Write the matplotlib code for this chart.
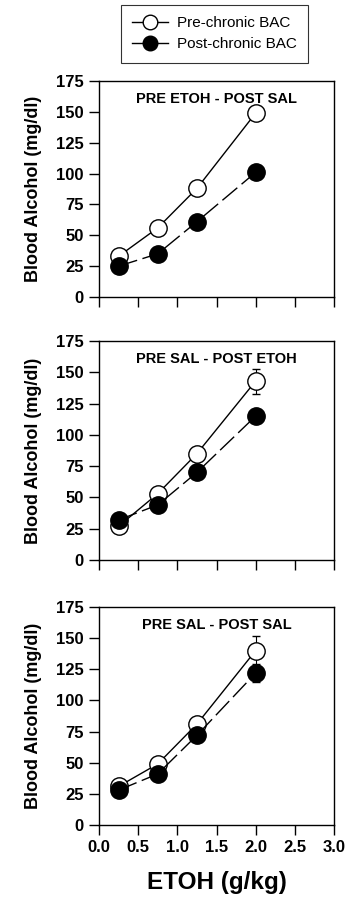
import matplotlib
matplotlib.use('Agg')
import matplotlib.pyplot as plt
from matplotlib.lines import Line2D
import numpy as np

plt.rcParams['font.family'] = ['Liberation Sans', 'DejaVu Sans']

# ETOH dose (g/kg)
doses = [0.25, 0.75, 1.25, 2.0]

titles = ['PRE ETOH - POST SAL', 'PRE SAL - POST ETOH', 'PRE SAL - POST SAL']

# blood alcohol (mg/dl), one list per panel
pre_bac = [[33, 56, 88, 149],
           [27, 53, 85, 143],
           [31, 49, 81, 140]]
post_bac = [[25, 35, 61, 101],
            [32, 44, 70, 115],
            [28, 41, 72, 122]]
# error bars (only visible ones at 2.0 g/kg)
pre_err = [[0, 0, 0, 0],
           [0, 0, 0, 10],
           [0, 0, 0, 12]]
post_err = [[0, 0, 0, 0],
            [0, 0, 0, 0],
            [0, 0, 0, 7]]

xticks = [0.0, 0.5, 1.0, 1.5, 2.0, 2.5, 3.0]
yticks = [0, 25, 50, 75, 100, 125, 150, 175]

fig = plt.figure(figsize=(3.48, 9.09), dpi=100)

# panel boxes in pixels: (top, bottom)
panels = [(81, 297), (341, 560), (607, 825)]
W, H = 348.0, 909.0
left, right = 99, 334

for i, (top, bot) in enumerate(panels):
    ax = fig.add_axes([left / W, 1 - bot / H, (right - left) / W, (bot - top) / H])
    ax.errorbar(doses, pre_bac[i], yerr=pre_err[i], color='black', lw=1.0,
                marker='o', ms=12.5, mfc='white', mec='black', mew=1.0,
                capsize=3, elinewidth=0.8, zorder=3)
    ax.errorbar(doses, post_bac[i], yerr=post_err[i], color='black', lw=1.0,
                marker='o', ms=12.5, mfc='black', mec='black', mew=1.0,
                capsize=3, elinewidth=0.8, dashes=(14, 4), zorder=4)
    ax.set_xlim(0, 3)
    ax.set_ylim(0, 175)
    ax.set_xticks(xticks)
    ax.set_yticks(yticks)
    ax.tick_params(direction='out', length=7, width=1, labelsize=12, pad=4)
    for lab in ax.get_yticklabels():
        lab.set_fontweight('bold')
    if i < 2:
        ax.set_xticklabels([])
    else:
        ax.set_xticklabels([f'{t:.1f}' for t in xticks], fontweight='bold')
        ax.set_xlabel('ETOH (g/kg)', fontsize=17.5, fontweight='bold', labelpad=11)
    ax.set_ylabel('Blood Alcohol (mg/dl)', fontsize=13, fontweight='bold', labelpad=10)
    ax.text(0.5, 0.95, titles[i], transform=ax.transAxes, ha='center', va='top',
            fontsize=10.5, fontweight='bold')
    for sp in ax.spines.values():
        sp.set_linewidth(1.0)

handles = [Line2D([], [], color='black', lw=1.0, marker='o', ms=10.5, mfc='white', mec='black'),
           Line2D([], [], color='black', lw=1.0, marker='o', ms=10.5, mfc='black', mec='black')]
labels = ['Pre-chronic BAC', 'Post-chronic BAC']
leg = fig.legend(handles, labels, loc='upper left', bbox_to_anchor=(121 / W, 1 - 5 / H),
                 borderaxespad=0, fontsize=11, frameon=True, fancybox=False,
                 edgecolor='black', handlelength=2.3, handletextpad=0.6,
                 borderpad=0.75, labelspacing=0.45)
leg.get_frame().set_linewidth(0.8)

fig.savefig('out.png', dpi=100)
